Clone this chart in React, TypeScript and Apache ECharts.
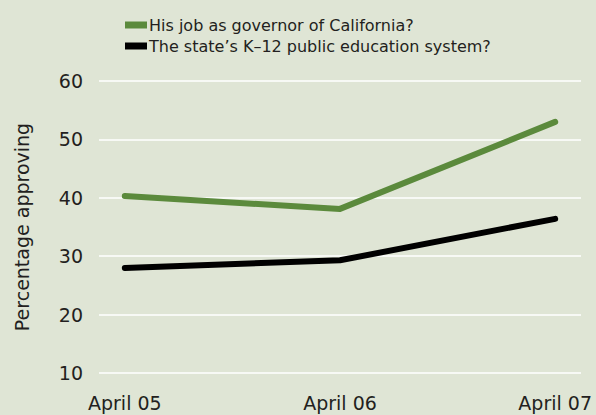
import React, { useEffect, useRef } from "react";
import * as echarts from "echarts";

const categories = ["April 05", "April 06", "April 07"];
const governorJob = [40.3, 38.1, 53.0];
const educationSystem = [28.0, 29.3, 36.4];
const seriesNames = [
  "His job as governor of California?",
  "The state\u2019s K\u201312 public education system?",
];

const FONT = "'DejaVu Sans', sans-serif";
const TEXT = "#231f20";

export default function App() {
  const ref = useRef<HTMLDivElement>(null);
  useEffect(() => {
    if (!ref.current) return;
    const chart = echarts.init(ref.current, null, { renderer: "svg" });
    const toPoints = (vals: number[]) => vals.map((v, i) => [i, v]);
    chart.setOption({
      animation: false,
      backgroundColor: "#dfe5d5",
      textStyle: { fontFamily: FONT, color: TEXT },
      legend: {
        orient: "vertical",
        left: 120,
        top: 12,
        itemWidth: 22,
        itemHeight: 7,
        itemGap: 5,
        icon: "rect",
        textStyle: { fontFamily: FONT, fontSize: 16, lineHeight: 16, color: TEXT, padding: [0, 0, 0, -3] },
        data: seriesNames,
      },
      grid: { left: 99, right: 15, top: 81, bottom: 42 },
      xAxis: {
        type: "value",
        min: -0.12,
        max: 2.12,
        axisLine: { show: false },
        axisTick: { show: false },
        splitLine: { show: false },
        axisLabel: {
          customValues: [0, 1, 2],
          formatter: (v: number) => categories[Math.round(v)] ?? "",
          fontSize: 19,
          color: TEXT,
          fontFamily: FONT,
          margin: 20,
        },
      },
      yAxis: {
        type: "value",
        min: 10,
        max: 60,
        interval: 10,
        name: "Percentage approving",
        nameLocation: "middle",
        nameGap: 68,
        nameTextStyle: { fontSize: 19, color: TEXT, fontFamily: FONT },
        axisLine: { show: false },
        axisTick: { show: false },
        axisLabel: { fontSize: 19, color: TEXT, fontFamily: FONT, margin: 16 },
        splitLine: { lineStyle: { color: "#ffffff", width: 1.5 } },
      },
      series: [
        {
          name: seriesNames[0],
          type: "line",
          data: toPoints(governorJob),
          symbol: "none",
          color: "#5b8a3c",
          lineStyle: { width: 6, color: "#5b8a3c", cap: "round", join: "round" },
        },
        {
          name: seriesNames[1],
          type: "line",
          data: toPoints(educationSystem),
          symbol: "none",
          color: "#000000",
          lineStyle: { width: 6, color: "#000000", cap: "round", join: "round" },
        },
      ],
    });
    return () => chart.dispose();
  }, []);
  return <div ref={ref} style={{ width: 596, height: 415, position: "absolute", left: 0, top: 0 }} />;
}
